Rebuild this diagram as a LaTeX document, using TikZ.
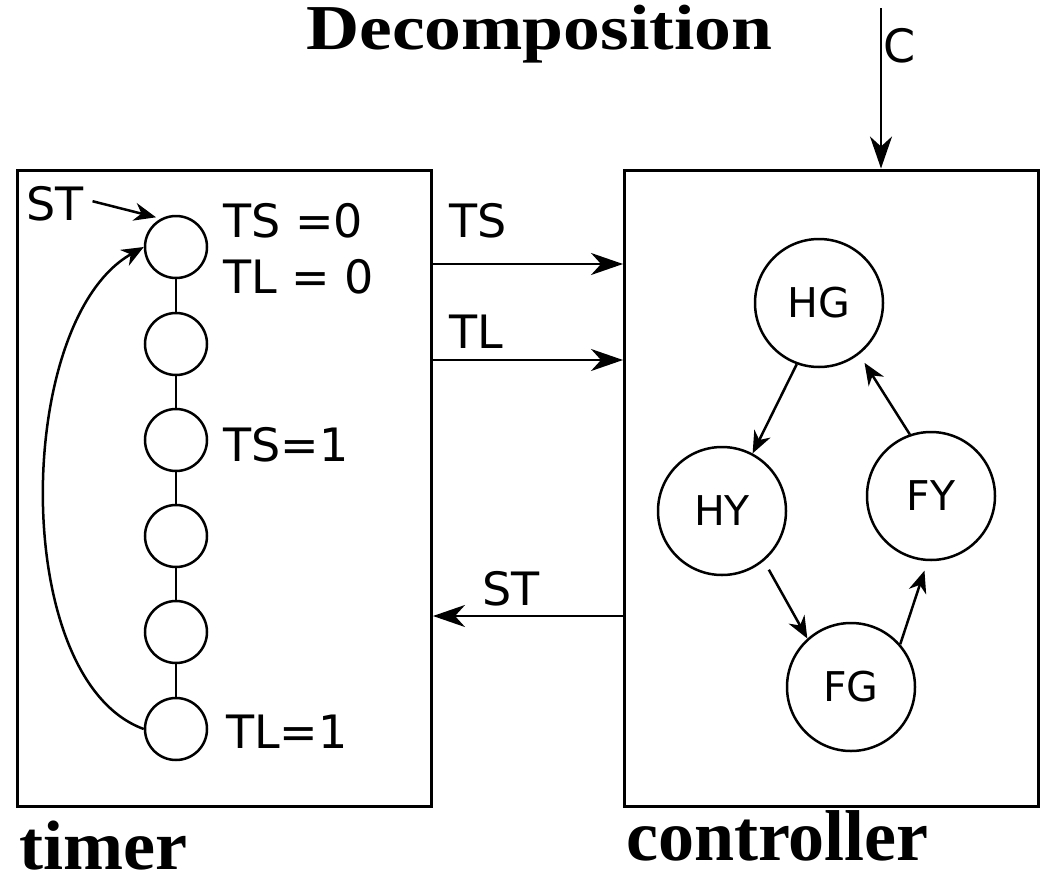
\documentclass[tikz,border=0pt]{standalone}
\usepackage{fontspec}
\setmainfont{DejaVu Sans}
\newfontfamily\titlefont{Liberation Serif}
\usetikzlibrary{arrows.meta}

\begin{document}
\begin{tikzpicture}[x=1pt,y=-1pt,line width=2.5pt,
    font=\fontsize{46}{56}\selectfont,
    >={Stealth[length=32pt,width=22pt,inset=10pt]},
    small/.style={-{Stealth[length=22pt,width=18pt,inset=7pt]}},
    lab/.style={anchor=base west,inner sep=0pt},
    heading/.style={anchor=base west,inner sep=0pt,
        font=\titlefont\bfseries\fontsize{72}{80}\selectfont},
    unit/.style={draw,line width=3pt,minimum width=414pt,minimum height=636pt},
    tcirc/.style={circle,draw,minimum size=62pt,inner sep=0pt},
    state/.style={circle,draw,minimum size=128pt,inner sep=0pt,
        font=\fontsize{41}{48}\selectfont}]
    \useasboundingbox (0,0) rectangle (1045,881);

    % Titel und die beiden Bausteine.
    \node[heading,font=\titlefont\bfseries\fontsize{64}{72}\selectfont] (title)
        at (305,49) {\scalebox{1.15}[1]{Decomposition}};
    \node[unit] (timer) at (224.5,488) {};
    \node[unit] (ctrl) at (831.5,488) {};
    \node[heading,font=\titlefont\bfseries\fontsize{70}{78}\selectfont] (timerlab)
        at (18,869) {\scalebox{1.03}[1]{timer}};
    \node[heading] (ctrllab) at (625,860) {controller};

    % Zaehler im timer.
    \foreach \i/\y in {1/247,2/344,3/440,4/536,5/632,6/729}{
        \node[tcirc] (t\i) at (176,\y) {};
    }
    \foreach \i [evaluate=\i as \j using int(\i+1)] in {1,...,5}{
        \draw (t\i) -- (t\j);
    }
    \node[lab] (ts0) at (222,237) {TS =0};
    \node[lab] (tl0) at (222,293) {TL = 0};
    \node[lab] (ts1) at (222,461) {TS=1};
    \node[lab] (tl1) at (225,748) {TL=1};
    \node[lab] (stin) at (25,220) {ST};
    \draw[small,shorten <=8pt,shorten >=5pt] ([yshift=4pt]stin.east) -- (t1.118);
    \draw[small] (t6.west) .. controls +(-135,-49) and +(-130,73) .. (t1.west);

    % Signale zwischen timer und controller.
    \coordinate (tsrow) at (0,264);
    \coordinate (tlrow) at (0,360);
    \coordinate (strow) at (0,616);
    \coordinate (cin) at (881,8);
    \draw[->] (timer.east |- tsrow) -- (ctrl.west |- tsrow);
    \draw[->] (timer.east |- tlrow) -- (ctrl.west |- tlrow);
    \draw[->] (ctrl.west |- strow) -- (timer.east |- strow);
    \draw[->] (cin) -- (cin |- ctrl.north);
    \node[lab] (tssig) at (448,237) {TS};
    \node[lab] (tlsig) at (448,348) {TL};
    \node[lab] (stsig) at (481,605) {ST};
    \node[lab] (csig) at (882,62) {C};

    % Zustaende des controllers.
    \node[state] (hg) at (819,303) {HG};
    \node[state] (hy) at (722,511) {HY};
    \node[state] (fy) at (931,496) {FY};
    \node[state] (fg) at (851,687) {FG};
    \draw[small] (hg.250) -- (hy.62);
    \draw[small,shorten <=10pt] (hy.310) -- (fg.132);
    \draw[small,shorten >=10pt] (fg.41) -- (fy.267);
    \draw[small,shorten >=10pt] (fy.109) -- (hg.308);
\end{tikzpicture}
\end{document}
